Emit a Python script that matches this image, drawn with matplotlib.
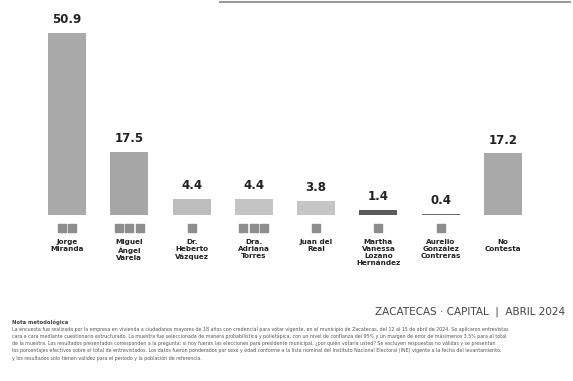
import matplotlib
matplotlib.use("Agg")
import matplotlib.pyplot as plt
import numpy as np

candidates = ["Jorge\nMiranda", "Miguel\nÁngel\nVarela", "Dr.\nHeberto\nVázquez",
              "Dra.\nAdriana\nTorres", "Juan del\nReal", "Martha\nVanessa\nLozano\nHernández",
              "Aurelio\nGonzález\nContreras", "No\nContesta"]
values = [50.9, 17.5, 4.4, 4.4, 3.8, 1.4, 0.4, 17.2]
value_labels = ["50.9", "17.5", "4.4", "4.4", "3.8", "1.4", "0.4", "17.2"]
logo_counts = [2, 3, 1, 3, 1, 1, 1, 0]
bar_colors = ["#a9a9a9", "#a6a6a6", "#bdbdbd", "#c4c4c4", "#c6c6c6", "#5a5a5a", "#6a6a6a", "#a8a8a8"]
title_text = "ZACATECAS · CAPITAL  |  ABRIL 2024"
note_title = "Nota metodológica"
note_lines = [
    "La encuesta fue realizada por la empresa en vivienda a ciudadanos mayores de 18 años con credencial para votar vigente, en el municipio de Zacatecas, del 12 al 15 de abril de 2024. Se aplicaron entrevistas",
    "cara a cara mediante cuestionario estructurado. La muestra fue seleccionada de manera probabilística y polietápica, con un nivel de confianza del 95% y un margen de error de más/menos 3.5% para el total",
    "de la muestra. Los resultados presentados corresponden a la pregunta: si hoy fueran las elecciones para presidente municipal, ¿por quién votaría usted? Se excluyen respuestas no válidas y se presentan",
    "los porcentajes efectivos sobre el total de entrevistados. Los datos fueron ponderados por sexo y edad conforme a la lista nominal del Instituto Nacional Electoral (INE) vigente a la fecha del levantamiento,",
    "y los resultados solo tienen validez para el periodo y la población de referencia.",
]

W, H = 573, 381
fig = plt.figure(figsize=(W / 100, H / 100), dpi=100)
fig.patch.set_facecolor("white")

x = np.arange(len(values))
ppu = 62.3
left_px = 67 - 0.75 * ppu
right_px = 503 + 0.75 * ppu
base_px = 215
top_px = 215 - 55 * 3.576
ax = fig.add_axes([left_px / W, (H - base_px) / H, (right_px - left_px) / W, (base_px - top_px) / H])
ax.set_xlim(-0.75, len(values) - 0.25)
ax.set_ylim(0, 55)
ax.axis("off")

ax.bar(x, values, width=0.61, color=bar_colors, edgecolor="none")
for xi, v, lab in zip(x, values, value_labels):
    ax.annotate(lab, (xi, v), xytext=(0, 5), textcoords="offset points", ha="center", va="bottom",
                fontsize=8.5, fontweight="bold", color="#222222", family="DejaVu Sans")

trans = ax.get_xaxis_transform()
for xi, n in zip(x, logo_counts):
    if n:
        offs = (np.arange(n) - (n - 1) / 2) * 0.17
        ax.scatter(xi + offs, np.full(n, -0.065), marker="s", s=38, color="#8d8d8d",
                   transform=trans, clip_on=False)

for xi, name in zip(x, candidates):
    ax.text(xi, -0.12, name, transform=trans, ha="center", va="top", fontsize=5.2,
            fontweight="bold", color="#222222", linespacing=1.25, family="DejaVu Sans")

fig.text(565 / W, 1 - 312 / H, title_text, ha="right", va="center", fontsize=7.5,
         color="#444444", family="DejaVu Sans")
fig.text(12 / W, 1 - 322 / H, note_title, ha="left", va="center", fontsize=3.8,
         fontweight="bold", color="#444444")
for i, line in enumerate(note_lines):
    fig.text(12 / W, 1 - (329 + i * 7.2) / H, line, ha="left", va="center", fontsize=3.45,
             color="#555555")

fig.add_artist(plt.Line2D([220 / W, 570 / W], [1 - 1.5 / H, 1 - 1.5 / H], color="#999999", lw=1.5))

fig.savefig("out.png", dpi=100, facecolor="white")
